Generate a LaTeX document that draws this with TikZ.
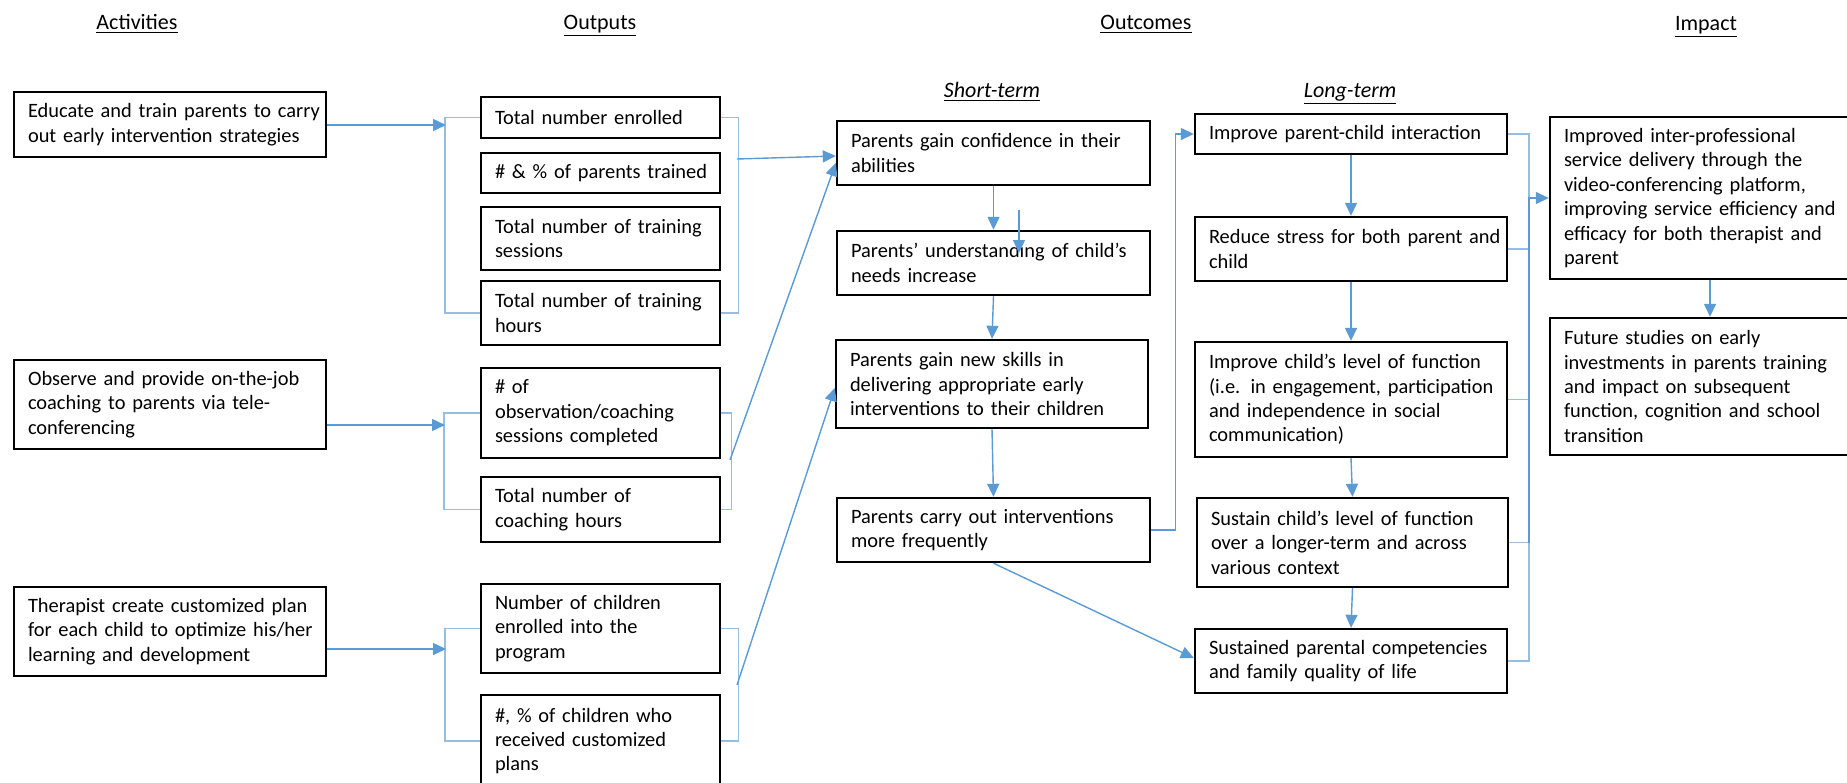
\documentclass[tikz,border=0pt]{standalone}
\usepackage{fontspec}
\setmainfont{Carlito}
\usetikzlibrary{arrows.meta}
\definecolor{lnblue}{RGB}{91,155,213}
\definecolor{brblue}{RGB}{150,190,228}
\begin{document}
\begin{tikzpicture}[x=0.5pt,y=-0.5pt,
  box/.style={draw=black, line width=1.2pt, rectangle, inner xsep=7pt, inner ysep=0pt,
    align=left, font=\fontsize{10.2}{12.2}\selectfont},
  hdr/.style={font=\fontsize{11}{13}\selectfont, inner sep=0pt, anchor=base},
  arr/.style={draw=lnblue, line width=0.7pt, -{Triangle[length=6.5pt,width=6pt]}},
  brk/.style={draw=brblue, line width=0.7pt},
  con/.style={draw=lnblue, line width=0.7pt}]
\useasboundingbox (0,0) rectangle (1847,782);
\fill[white] (0,0) rectangle (1847,782);

% headers
\node[hdr] (hAct) at (137,29) {\underline{Activities}};
\node[hdr] (hOut) at (600,29) {\underline{Outputs}};
\node[hdr] (hOc) at (1146,29) {\underline{Outcomes}};
\node[hdr] (hImp) at (1706,30) {\underline{Impact}};
\node[hdr] (hST) at (992,97) {\textit{\underline{Short-term}}};
\node[hdr] (hLT) at (1350,97) {\textit{\underline{Long-term}}};

% activities
\node[box, minimum width=156pt, minimum height=32.5pt, text width=142pt] (A1) at (170,124.5)
  {\mbox{Educate and train parents to carry}\\\mbox{out early intervention strategies}};
\node[box, minimum width=156pt, minimum height=44.5pt, text width=142pt] (A2) at (170,404.5)
  {\mbox{Observe and provide on-the-job}\\\mbox{coaching to parents via tele-}\\\mbox{conferencing}};
\node[box, minimum width=156pt, minimum height=44.5pt, text width=142pt] (A3) at (170,631.5)
  {\mbox{Therapist create customized plan}\\\mbox{for each child to optimize his/her}\\\mbox{learning and development}};

% outputs
\node[box, minimum width=119.5pt, minimum height=20.5pt, text width=105.5pt] (O1) at (600.5,117.5)
  {\mbox{Total number enrolled}};
\node[box, minimum width=119.5pt, minimum height=20pt, text width=105.5pt] (O2) at (600.5,173)
  {\mbox{\# \& \% of parents trained}};
\node[box, minimum width=119.5pt, minimum height=31.5pt, text width=105.5pt] (O3) at (600.5,238.5)
  {\mbox{Total number of training}\\\mbox{sessions}};
\node[box, minimum width=119.5pt, minimum height=32pt, text width=105.5pt] (O4) at (600.5,313)
  {\mbox{Total number of training}\\\mbox{hours}};
\node[box, minimum width=119.5pt, minimum height=45pt, text width=105.5pt] (O5) at (600.5,413)
  {\mbox{\# of}\\\mbox{observation/coaching}\\\mbox{sessions completed}};
\node[box, minimum width=119.5pt, minimum height=32.5pt, text width=105.5pt] (O6) at (600.5,509.5)
  {\mbox{Total number of}\\\mbox{coaching hours}};
\node[box, minimum width=119.5pt, minimum height=44.5pt, text width=105.5pt] (O7) at (600.5,628.5)
  {\mbox{Number of children}\\\mbox{enrolled into the}\\\mbox{program}};
\node[box, minimum width=119.5pt, minimum height=46pt, text width=105.5pt] (O8) at (600.5,741)
  {\mbox{\#, \% of children who}\\\mbox{received customized}\\\mbox{plans}};

% short-term
\node[box, minimum width=156.5pt, minimum height=32pt, text width=142.5pt] (S1) at (993.5,153)
  {\mbox{Parents gain confidence in their}\\\mbox{abilities}};
\node[box, minimum width=156.5pt, minimum height=32pt, text width=142.5pt] (S2) at (993.5,263)
  {\mbox{Parents’ understanding of child’s}\\\mbox{needs increase}};
\node[box, minimum width=156pt, minimum height=44pt, text width=142pt] (S3) at (992,384)
  {\mbox{Parents gain new skills in}\\\mbox{delivering appropriate early}\\\mbox{interventions to their children}};
\node[box, minimum width=156.5pt, minimum height=32pt, text width=142.5pt] (S4) at (993.5,530)
  {\mbox{Parents carry out interventions}\\\mbox{more frequently}};

% long-term
\node[box, minimum width=156pt, minimum height=20pt, text width=142pt] (L1) at (1351,134)
  {\mbox{Improve parent-child interaction}};
\node[box, minimum width=156pt, minimum height=32pt, text width=142pt] (L2) at (1351,249)
  {\mbox{Reduce stress for both parent and}\\\mbox{child}};
\node[box, minimum width=156pt, minimum height=57.5pt, text width=142pt] (L3) at (1351,399.5)
  {\mbox{Improve child’s level of function}\\\mbox{(i.e. in engagement, participation}\\\mbox{and independence in social}\\\mbox{communication)}};
\node[box, minimum width=155.5pt, minimum height=44.5pt, text width=141.5pt] (L4) at (1352.5,542.5)
  {\mbox{Sustain child’s level of function}\\\mbox{over a longer-term and across}\\\mbox{various context}};
\node[box, minimum width=156pt, minimum height=32pt, text width=142pt] (L5) at (1351,661)
  {\mbox{Sustained parental competencies}\\\mbox{and family quality of life}};

% impact
\node[box, minimum width=160pt, minimum height=81pt, text width=146pt] (I1) at (1710,198)
  {\mbox{Improved inter-professional}\\\mbox{service delivery through the}\\\mbox{video-conferencing platform,}\\\mbox{improving service efficiency and}\\\mbox{efficacy for both therapist and}\\\mbox{parent}};
\node[box, minimum width=160pt, minimum height=68.5pt, text width=146pt] (I2) at (1710,386.5)
  {\mbox{Future studies on early}\\\mbox{investments in parents training}\\\mbox{and impact on subsequent}\\\mbox{function, cognition and school}\\\mbox{transition}};

% helper coordinates
\coordinate (k1) at (446,125);
\coordinate (k2) at (445,425);
\coordinate (k3) at (446,649);
\coordinate (m1) at (737,159);
\coordinate (m2) at (730,460);
\coordinate (m3) at (737,685);
\coordinate (s1) at (1019,210);
\coordinate (s2) at (1019,253);
\coordinate (lb) at (1529,0);

% brackets (outputs)
\draw[brk] (O1.west) -- ++(-17.5pt,0) |- (O4.west);
\draw[brk] (O1.east) -- ++(8.5pt,0) |- (O4.east);
\draw[brk] (O5.west) -- ++(-18pt,0) |- (O6.west);
\draw[brk] (O5.east) -- ++(5pt,0) |- (O6.east);
\draw[brk] (O7.west) -- ++(-17.5pt,0) |- (O8.west);
\draw[brk] (O7.east) -- ++(8.5pt,0) |- (O8.east);

% activity arrows
\draw[arr] (A1.east |- k1) -- (k1);
\draw[arr] (A2.east |- k2) -- (k2);
\draw[arr] (A3.east |- k3) -- (k3);

% outputs to short-term
\draw[arr] (m1) -- ([yshift=-1.5pt]S1.west);
\draw[arr] (m2) -- ([yshift=-5pt]S1.west);
\draw[arr] (m3) -- ([yshift=-2pt]S3.west);

% short-term chain
\draw[arr] (S1.south) -- (S2.north);
\draw[arr] (s1) -- (s2);
\draw[arr] (S2.south) -- (S3.north);
\draw[arr] (S3.south) -- (S4.north);
\draw[arr] (S4.east) -- ++(12pt,0) |- (L1.west);
\draw[arr] (S4.south) -- ([yshift=1.5pt]L5.west);

% long-term chain
\draw[arr] (L1.south) -- (L2.north);
\draw[arr] (L2.south) -- (L3.north);
\draw[arr] (L3.south) -- (L4.north);
\draw[arr] (L4.south) -- (L5.north);

% long-term bracket
\draw[brk] (L1.east) -- (L1.east -| lb) -- (L5.east -| lb) -- (L5.east);
\draw[brk] (L2.east) -- (L2.east -| lb);
\draw[brk] (L3.east) -- (L3.east -| lb);
\draw[brk] (L4.east) -- (L4.east -| lb);
\draw[arr] (lb |- L4.east) -- (lb |- I1.west) -- (I1.west);

% impact
\draw[arr] (I1.south) -- (I2.north);
\end{tikzpicture}
\end{document}
